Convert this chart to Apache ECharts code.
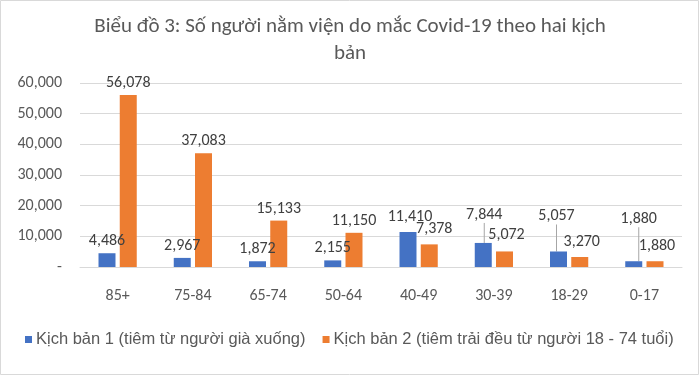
<!DOCTYPE html>
<html>
<head>
<meta charset="utf-8">
<script src="https://cdn.jsdelivr.net/npm/echarts@6/dist/echarts.min.js"></script>
<style>
  html, body { margin: 0; padding: 0; background: #fff; }
  #main { width: 700px; height: 376px; }
</style>
</head>
<body>
<div id="main"></div>
<script>
var ageGroups = ['85+', '75-84', '65-74', '50-64', '40-49', '30-39', '18-29', '0-17'];
var scenario1 = [4486, 2967, 1872, 2155, 11410, 7844, 5057, 1880];
var scenario2 = [56078, 37083, 15133, 11150, 7378, 5072, 3270, 1880];
var seriesNames = ['Kịch bản 1 (tiêm từ người già xuống)', 'Kịch bản 2 (tiêm trải đều từ người 18 - 74 tuổi)'];

// label nudges Excel applied by hand (dx, dy per bar)
var nudge1 = [[0, 0], [0, 0], [0, 0], [0, 0], [2, -3], [1, -16], [-2, -23], [5, -30]];
var nudge2 = [[0, 0], [0, 0], [0, 0], [0, 0], [5, -3], [2, -4], [2, -3], [2, -3]];

var chart = echarts.init(document.getElementById('main'));
var font = 'Carlito, Calibri, "Open Sans", sans-serif';

function fmt(v) {
  return v === 0 ? '-' : echarts.format.addCommas(v);
}

var option = {
  animation: false,
  color: ['#4472C4', '#ED7D31'],
  title: {
    text: 'Biểu đồ 3: Số người nằm viện do mắc Covid-19 theo hai kịch\nbản',
    left: 'center',
    top: 8,
    textStyle: {
      fontFamily: font,
      fontWeight: 'normal',
      fontSize: 21,
      color: '#595959',
      lineHeight: 27
    }
  },
  graphic: [{
    type: 'rect',
    shape: { x: 0.5, y: 0.5, width: 698, height: 374 },
    style: { fill: null, stroke: '#d9d9d9', lineWidth: 1 },
    silent: true
  }],
  legend: {
    left: 20,
    top: 326,
    itemWidth: 7,
    itemHeight: 7,
    itemGap: 17,
    icon: 'rect',
    textStyle: {
      fontFamily: '"Liberation Sans", Arial, sans-serif',
      fontSize: 16.5,
      color: '#595959',
      padding: [0, 0, 0, -1]
    },
    data: seriesNames
  },
  grid: { left: 80, right: 18, top: 83, bottom: 109 },
  xAxis: {
    type: 'category',
    data: ageGroups,
    axisTick: { show: false },
    axisLine: { lineStyle: { color: '#d9d9d9' } },
    axisLabel: {
      margin: 21,
      fontFamily: font,
      fontSize: 16,
      color: '#595959'
    }
  },
  yAxis: {
    type: 'value',
    min: 0,
    max: 60000,
    interval: 10000,
    axisLabel: {
      formatter: fmt,
      fontFamily: font,
      fontSize: 16,
      color: '#595959',
      margin: 18
    },
    splitLine: { lineStyle: { color: '#d9d9d9' } }
  },
  series: [scenario1, scenario2].map(function (vals, si) {
    var nudge = si === 0 ? nudge1 : nudge2;
    return {
      name: seriesNames[si],
      type: 'bar',
      data: vals.map(function (v, i) {
        // leader line only where the label was pulled well away from its bar
        return { value: v, labelLine: { show: nudge[i][1] < -10 } };
      }),
      barWidth: 17,
      barGap: '25%',
      label: {
        show: true,
        position: 'top',
        distance: 4,
        formatter: function (p) { return fmt(p.value); },
        fontFamily: font,
        fontSize: 16,
        color: '#404040'
      },
      labelLine: {
        show: false,
        lineStyle: { color: '#a6a6a6', width: 1 }
      },
      labelLayout: function (p) {
        var n = nudge[p.dataIndex];
        return { dx: n[0], dy: n[1] };
      }
    };
  })
};

chart.setOption(option);
</script>
</body>
</html>
